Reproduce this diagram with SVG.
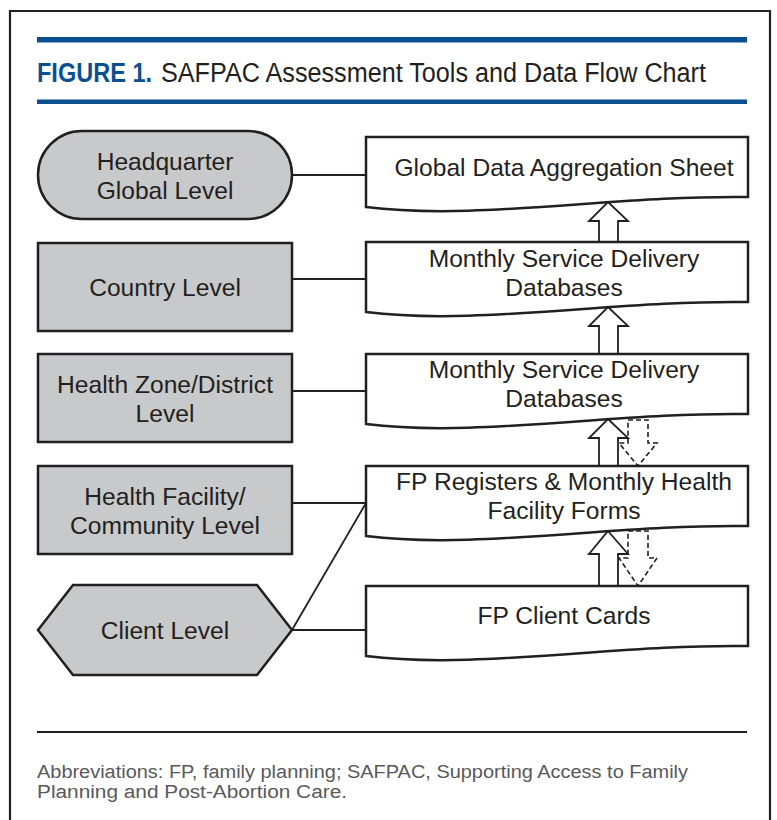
<svg xmlns="http://www.w3.org/2000/svg" width="777" height="820" viewBox="0 0 777 820">
<style>
.lvl{fill:#c8c9cb;stroke:#231f20;stroke-width:2.5}
.doc{fill:#fff;stroke:#231f20;stroke-width:2.5;stroke-linejoin:miter}
.t{font-family:"Liberation Sans",Arial,sans-serif;font-size:24.6px;fill:#231f20;text-anchor:middle}
.con{stroke:#231f20;stroke-width:1.8;fill:none}
.up{fill:#fff;stroke:#231f20;stroke-width:1.8}
.dn{fill:#fff;stroke:#231f20;stroke-width:1.6;stroke-dasharray:5 3}
</style>
<defs>
<path id="docshape" d="M0,0 H382 V60 C250,58 110,84 0,70 Z"/>
</defs>
<rect width="777" height="820" fill="#fff"/>
<path d="M10,822 V11 H770 V822" fill="none" stroke="#231f20" stroke-width="2.2"/>
<rect x="37" y="37" width="710" height="5.5" fill="#0b4f91"/>
<rect x="37" y="99.5" width="710" height="4.5" fill="#0b4f91"/>
<text x="37" y="82" font-family="Liberation Sans Narrow,Liberation Sans,Arial,sans-serif" font-weight="bold" font-size="27" fill="#0b4f91" textLength="115" lengthAdjust="spacingAndGlyphs">FIGURE 1.</text>
<text x="161" y="82" font-family="Liberation Sans,Arial,sans-serif" font-size="27" fill="#231f20" textLength="545" lengthAdjust="spacingAndGlyphs">SAFPAC Assessment Tools and Data Flow Chart</text>

<g id="connectors">
<line class="con" x1="292" y1="175" x2="366" y2="175"/>
<line class="con" x1="292" y1="279" x2="366" y2="279"/>
<line class="con" x1="292" y1="391" x2="366" y2="391"/>
<line class="con" x1="292" y1="503" x2="366" y2="503"/>
<line class="con" x1="292" y1="630" x2="366" y2="630"/>
<line class="con" x1="292" y1="630" x2="366" y2="503"/>
<path class="dn" d="M628,420 H648 V443 H657 L638,466 L619,443 H628 Z"/>
<path class="dn" d="M628,531 H648 V558 H657 L638,586 L619,558 H628 Z"/>
<path class="up" d="M608,202 L628,221 H618 V242 H599 V221 H589 Z"/>
<path class="up" d="M608,307 L628,326 H618 V354 H599 V326 H589 Z"/>
<path class="up" d="M608,419 L628,438 H618 V466 H599 V438 H589 Z"/>
<path class="up" d="M608,531 L628,554 H618 V586 H599 V554 H589 Z"/>
</g>

<g id="hq">
<rect class="lvl" x="38" y="131" width="254" height="88" rx="44" ry="44"/>
<text class="t" x="165" y="170">Headquarter</text>
<text class="t" x="165" y="199">Global Level</text>
</g>
<g id="country">
<rect class="lvl" x="38" y="243" width="254" height="88"/>
<text class="t" x="165" y="296">Country Level</text>
</g>
<g id="district">
<rect class="lvl" x="38" y="354" width="254" height="88"/>
<text class="t" x="165" y="393">Health Zone/District</text>
<text class="t" x="165" y="422">Level</text>
</g>
<g id="facility">
<rect class="lvl" x="38" y="466" width="254" height="88"/>
<text class="t" x="165" y="505">Health Facility/</text>
<text class="t" x="165" y="534">Community Level</text>
</g>
<g id="client">
<polygon class="lvl" points="38,630 73,585 257,585 292,630 257,675 73,675"/>
<text class="t" x="165" y="639">Client Level</text>
</g>

<g id="global_sheet">
<use href="#docshape" class="doc" x="366" y="137"/>
<text class="t" x="564" y="176">Global Data Aggregation Sheet</text>
</g>
<g id="country_db">
<use href="#docshape" class="doc" x="366" y="242"/>
<text class="t" x="564" y="267">Monthly Service Delivery</text>
<text class="t" x="564" y="296">Databases</text>
</g>
<g id="district_db">
<use href="#docshape" class="doc" x="366" y="354"/>
<text class="t" x="564" y="378">Monthly Service Delivery</text>
<text class="t" x="564" y="407">Databases</text>
</g>
<g id="registers">
<use href="#docshape" class="doc" x="366" y="466"/>
<text class="t" x="564" y="490">FP Registers &amp; Monthly Health</text>
<text class="t" x="564" y="519">Facility Forms</text>
</g>
<g id="client_cards">
<use href="#docshape" class="doc" x="366" y="586"/>
<text class="t" x="564" y="624">FP Client Cards</text>
</g>

<line x1="37" y1="732" x2="747" y2="732" stroke="#231f20" stroke-width="2"/>
<text x="37" y="778" font-family="Liberation Sans,Arial,sans-serif" font-size="18" fill="#58595b" textLength="651" lengthAdjust="spacingAndGlyphs">Abbreviations: FP, family planning; SAFPAC, Supporting Access to Family</text>
<text x="37" y="798" font-family="Liberation Sans,Arial,sans-serif" font-size="18" fill="#58595b" textLength="310" lengthAdjust="spacingAndGlyphs">Planning and Post-Abortion Care.</text>
</svg>
